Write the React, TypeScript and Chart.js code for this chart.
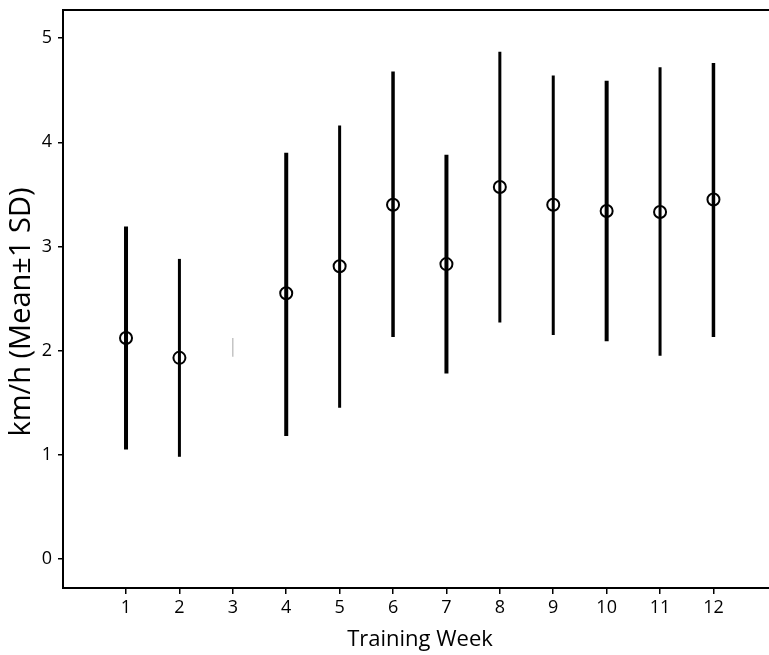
import React, { useEffect, useRef } from "react";
import { Chart, registerables } from "chart.js";

Chart.register(...registerables);

// ---- data ----
const weeks = [1, 2, 3, 4, 5, 6, 7, 8, 9, 10, 11, 12];
const means: (number | null)[] = [2.12, 1.93, null, 2.55, 2.81, 3.4, 2.83, 3.57, 3.4, 3.34, 3.33, 3.45];
const upper = [3.19, 2.88, 2.12, 3.9, 4.16, 4.68, 3.88, 4.87, 4.64, 4.59, 4.72, 4.76];
const lower = [1.05, 0.98, 1.94, 1.18, 1.45, 2.13, 1.78, 2.27, 2.15, 2.09, 1.95, 2.13];
const yTickValues = [0, 1, 2, 3, 4, 5];
const xTitle = "Training Week";
const yTitle = "km/h (Mean±1 SD)";

// ---- styles ----
const barWidths = [4, 3, 1.2, 4, 3, 3.5, 4, 3, 3, 4, 3, 3.5];
const FONT = "'Open Sans', 'Noto Sans', sans-serif";

const errorBarPlugin = {
  id: "errorBars",
  beforeDatasetsDraw(chart: any) {
    const { ctx, scales } = chart;
    const x = scales.x;
    const y = scales.y;
    ctx.save();
    weeks.forEach((w, i) => {
      const px = x.getPixelForValue(w);
      ctx.beginPath();
      ctx.moveTo(px, y.getPixelForValue(upper[i]));
      ctx.lineTo(px, y.getPixelForValue(lower[i]));
      ctx.strokeStyle = means[i] == null ? "#b5b5b5" : "#000";
      ctx.lineWidth = barWidths[i];
      ctx.lineCap = "butt";
      ctx.stroke();
    });
    ctx.restore();
  },
};

const framePlugin = {
  id: "frame",
  afterDraw(chart: any) {
    const { ctx, chartArea } = chart;
    ctx.save();
    ctx.strokeStyle = "#000";
    ctx.lineWidth = 2;
    ctx.beginPath();
    ctx.moveTo(chartArea.left - 1, chartArea.top);
    ctx.lineTo(chartArea.right, chartArea.top);
    ctx.stroke();

    ctx.fillStyle = "#000";
    ctx.textAlign = "center";
    ctx.textBaseline = "middle";
    ctx.font = `22px ${FONT}`;
    ctx.fillText(xTitle, 420, 640);

    ctx.translate(22, 312);
    ctx.rotate(-Math.PI / 2);
    ctx.font = `29px ${FONT}`;
    ctx.fillText(yTitle, 0, 0);
    ctx.restore();
  },
};

export default function App() {
  const ref = useRef<HTMLCanvasElement | null>(null);

  useEffect(() => {
    if (!ref.current) return;
    const chart = new Chart(ref.current, {
      type: "scatter",
      data: {
        datasets: [
          {
            label: "Mean",
            data: weeks
              .map((w, i) => ({ x: w, y: means[i] }))
              .filter((p) => p.y != null) as any,
            showLine: false,
            pointStyle: "circle",
            pointRadius: 6,
            pointBorderWidth: 2,
            pointBorderColor: "#000",
            pointBackgroundColor: "rgba(0,0,0,0)",
          },
        ],
      },
      options: {
        animation: false,
        responsive: false,
        devicePixelRatio: 1,
        layout: { autoPadding: false, padding: { top: 10, right: 0, left: 0, bottom: 0 } },
        plugins: {
          legend: { display: false },
          tooltip: { enabled: false },
          title: { display: false },
        },
        scales: {
          x: {
            type: "linear",
            min: -0.18,
            max: 13.04,
            afterBuildTicks: (s: any) => {
              s.ticks = weeks.map((v) => ({ value: v }));
            },
            afterFit: (s: any) => {
              s.height = 67;
              s.paddingLeft = 0;
              s.paddingRight = 0;
            },
            ticks: {
              color: "#000",
              font: { family: FONT, size: 18 },
              padding: 3,
              callback: (v: any) => String(v),
            },
            grid: {
              display: true,
              drawOnChartArea: false,
              drawTicks: true,
              tickLength: 6,
              color: "#000",
              lineWidth: 1.5,
            },
            border: { display: true, color: "#000", width: 2 },
          },
          y: {
            type: "linear",
            min: -0.28,
            max: 5.27,
            afterBuildTicks: (s: any) => {
              s.ticks = yTickValues.map((v) => ({ value: v }));
            },
            afterFit: (s: any) => {
              s.width = 63;
              s.paddingTop = 0;
              s.paddingBottom = 0;
            },
            ticks: {
              color: "#000",
              font: { family: FONT, size: 18 },
              padding: 6,
              callback: (v: any) => String(v),
            },
            grid: {
              display: true,
              drawOnChartArea: false,
              drawTicks: true,
              tickLength: 5,
              color: "#000",
              lineWidth: 1.5,
            },
            border: { display: true, color: "#000", width: 2 },
          },
        },
      },
      plugins: [errorBarPlugin, framePlugin],
    });
    return () => chart.destroy();
  }, []);

  return (
    <div style={{ position: "absolute", left: 0, top: 0, width: 769, height: 655, background: "#fff" }}>
      <canvas ref={ref} width={769} height={655} style={{ display: "block" }} />
    </div>
  );
}
